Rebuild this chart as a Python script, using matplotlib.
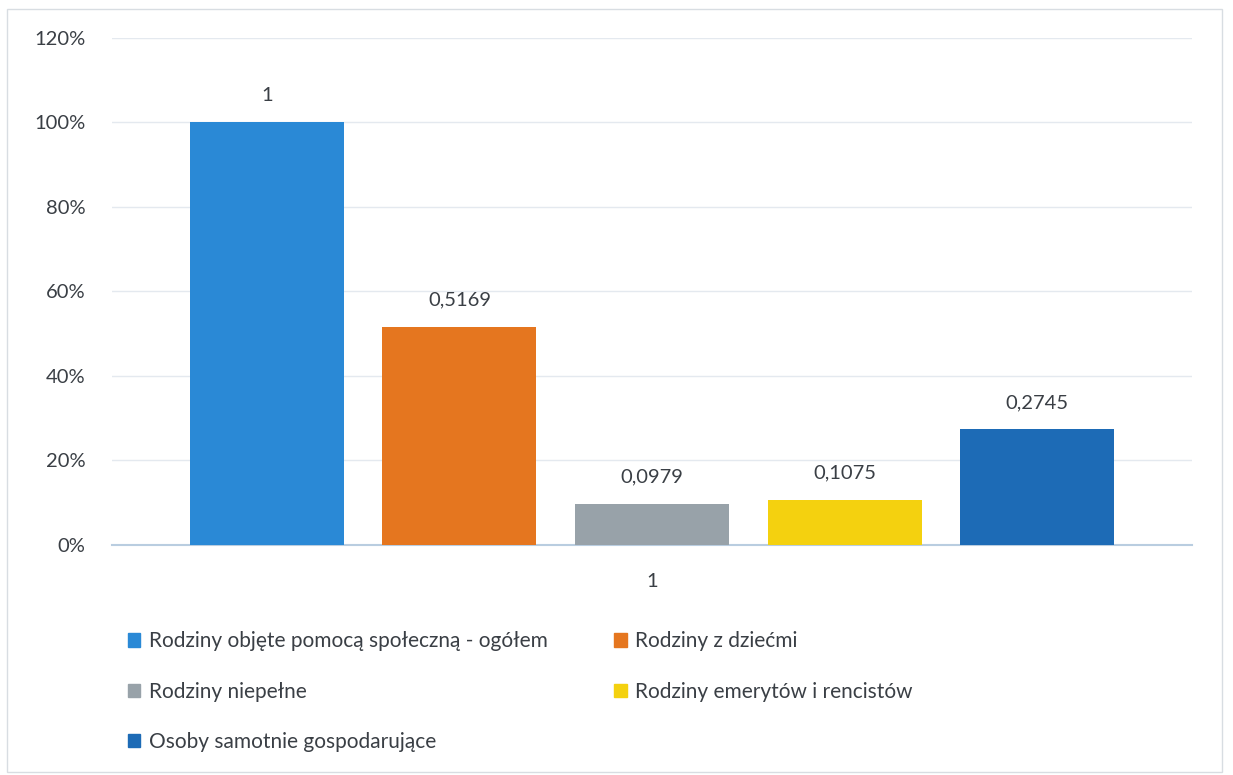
import matplotlib
matplotlib.use("Agg")
import matplotlib.pyplot as plt
from matplotlib.patches import Rectangle, Patch
from matplotlib.ticker import FuncFormatter

series = ["Rodziny objęte pomocą społeczną - ogółem", "Rodziny z dziećmi",
          "Rodziny niepełne", "Rodziny emerytów i rencistów",
          "Osoby samotnie gospodarujące"]
values = [1.0, 0.5169, 0.0979, 0.1075, 0.2745]
value_labels = ["1", "0,5169", "0,0979", "0,1075", "0,2745"]
colors = ["#2a89d6", "#e5761f", "#98a2a9", "#f4d10f", "#1d6bb6"]
category = "1"
yticks = [0, 0.2, 0.4, 0.6, 0.8, 1.0, 1.2]

plt.rcParams['font.family'] = ['Lato', 'DejaVu Sans']
txt = "#3a3f45"

fig = plt.figure(figsize=(12.33, 7.75), dpi=100)
fig.patches.append(Rectangle((0.006, 0.004), 0.985, 0.985, transform=fig.transFigure,
                             fill=False, edgecolor="#d8dde2", linewidth=1.0))
ax = fig.add_axes([0.0908, 0.2968, 0.876, 0.6542])

n = len(values)
offsets = [i - (n - 1) / 2 for i in range(n)]
for off, v, c, lab in zip(offsets, values, colors, value_labels):
    ax.bar(off, v, width=0.8, color=c, zorder=3)
    ax.annotate(lab, (off, v), xytext=(0, 13), textcoords="offset points",
                ha="center", va="bottom", fontsize=14.5, color=txt)

ax.set_xlim(-2.805, 2.805)
ax.set_ylim(0, 1.2)
ax.set_yticks(yticks)
ax.yaxis.set_major_formatter(FuncFormatter(lambda y, p: f"{round(y*100)}%"))
ax.set_xticks([0])
ax.set_xticklabels([category])
ax.tick_params(axis="both", length=0, labelsize=14.5, labelcolor=txt)
ax.tick_params(axis="x", pad=20)
ax.tick_params(axis="y", pad=19)
ax.grid(axis="y", color="#e4e9ef", linewidth=1.0, zorder=0)
for s in ["top", "right", "left"]:
    ax.spines[s].set_visible(False)
ax.spines["bottom"].set_color("#b9cde0")
ax.spines["bottom"].set_linewidth(1.5)

handles = [Patch(color=c) for c in colors]
order = [0, 2, 4, 1, 3]
leg = fig.legend([handles[i] for i in order], [series[i] for i in order],
                 ncol=2, loc="upper left", bbox_to_anchor=(0.097, 0.196),
                 frameon=False, fontsize=15, handlelength=0.6, handleheight=0.6,
                 handletextpad=0.4, columnspacing=3.2, labelspacing=1.45,
                 labelcolor=txt, borderaxespad=0)

fig.savefig("out.png", dpi=100)
